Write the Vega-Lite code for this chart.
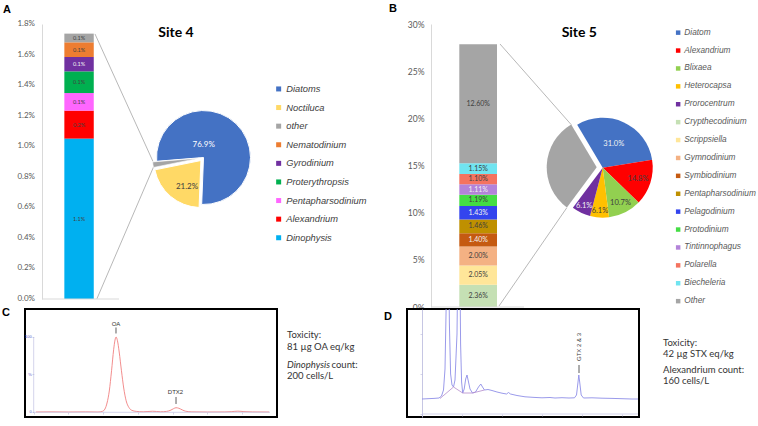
{
  "$schema": "https://vega.github.io/schema/vega-lite/v6.json",
  "background": "#FFFFFF",
  "padding": {"left": 1, "top": 2, "right": 0, "bottom": 0},
  "bounds": "flush",
  "columns": 2,
  "spacing": {"row": 2, "column": 0},
  "resolve": {"scale": {"color": "independent", "theta": "independent", "x": "independent", "y": "independent"}, "legend": {"color": "independent"}},
  "config": {"view": {"stroke": null}, "font": "Lato", "text": {"font": "Lato"}, "axis": {"labelOverlap": false}},
  "datasets": {
    "one": [{}],
    "ticks4": [
      {"v": 0.0, "lab": "0.0%"}, {"v": 0.2, "lab": "0.2%"}, {"v": 0.4, "lab": "0.4%"}, {"v": 0.6, "lab": "0.6%"}, {"v": 0.8, "lab": "0.8%"},
      {"v": 1.0, "lab": "1.0%"}, {"v": 1.2, "lab": "1.2%"}, {"v": 1.4, "lab": "1.4%"}, {"v": 1.6, "lab": "1.6%"}, {"v": 1.8, "lab": "1.8%"}
    ],
    "bar4": [
      {"taxon": "Dinophysis", "v": 1.05, "k": 1, "lab": "1.1%"},
      {"taxon": "Alexandrium", "v": 0.183, "k": 2, "lab": "0.2%"},
      {"taxon": "Pentapharsodinium", "v": 0.115, "k": 3, "lab": "0.1%"},
      {"taxon": "Proterythropsis", "v": 0.142, "k": 4, "lab": "0.1%"},
      {"taxon": "Gyrodinium", "v": 0.094, "k": 5, "lab": "0.1%"},
      {"taxon": "Nematodinium", "v": 0.096, "k": 6, "lab": "0.1%"},
      {"taxon": "other", "v": 0.057, "k": 7, "lab": "0.1%"}
    ],
    "pie4": [
      {"taxon": "Diatoms", "v": 76.9, "k": 1, "lab": "76.9%"},
      {"taxon": "Noctiluca", "v": 21.2, "k": 2, "lab": "21.2%"},
      {"taxon": "other", "v": 1.9, "k": 3, "lab": ""}
    ],
    "bar5": [
      {"taxon": "Crypthecodinium", "v": 2.36, "k": 1, "lab": "2.36%"},
      {"taxon": "Scrippsiella", "v": 2.05, "k": 2, "lab": "2.05%"},
      {"taxon": "Gymnodinium", "v": 2.0, "k": 3, "lab": "2.00%"},
      {"taxon": "Symbiodinium", "v": 1.4, "k": 4, "lab": "1.40%"},
      {"taxon": "Pentapharsodinium", "v": 1.46, "k": 5, "lab": "1.46%"},
      {"taxon": "Pelagodinium", "v": 1.43, "k": 6, "lab": "1.43%"},
      {"taxon": "Protodinium", "v": 1.19, "k": 7, "lab": "1.19%"},
      {"taxon": "Tintinnophagus", "v": 1.11, "k": 8, "lab": "1.11%"},
      {"taxon": "Polarella", "v": 1.1, "k": 9, "lab": "1.10%"},
      {"taxon": "Biecheleria", "v": 1.15, "k": 10, "lab": "1.15%"},
      {"taxon": "Other", "v": 12.6, "k": 11, "lab": "12.60%"}
    ],
    "pie5": [
      {"taxon": "Diatom", "v": 31.0, "k": 1, "lab": "31.0%"},
      {"taxon": "Alexandrium", "v": 14.8, "k": 2, "lab": "14.8%"},
      {"taxon": "Blixaea", "v": 10.7, "k": 3, "lab": "10.7%"},
      {"taxon": "Heterocapsa", "v": 6.1, "k": 4, "lab": "6.1%"},
      {"taxon": "Prorocentrum", "v": 6.1, "k": 5, "lab": "6.1%"},
      {"taxon": "Other", "v": 31.3, "k": 6, "lab": ""}
    ],
    "trc": [
      {"t": 0.13, "v": 0}, {"t": 1, "v": 0.2}, {"t": 2, "v": 0}, {"t": 3, "v": 0.2}, {"t": 3.7, "v": 0},
      {"t": 3.95, "v": 0.8}, {"t": 4.1, "v": 4}, {"t": 4.22, "v": 12}, {"t": 4.35, "v": 28}, {"t": 4.48, "v": 55},
      {"t": 4.6, "v": 83}, {"t": 4.68, "v": 96}, {"t": 4.74, "v": 100}, {"t": 4.82, "v": 95}, {"t": 4.92, "v": 80},
      {"t": 5.05, "v": 55}, {"t": 5.18, "v": 32}, {"t": 5.32, "v": 15}, {"t": 5.48, "v": 6}, {"t": 5.65, "v": 2.2},
      {"t": 5.9, "v": 0.8}, {"t": 6.3, "v": 0.3}, {"t": 6.85, "v": 1.0}, {"t": 7.3, "v": 0.3}, {"t": 7.65, "v": 0.8},
      {"t": 7.9, "v": 2.6}, {"t": 8.05, "v": 4.5}, {"t": 8.19, "v": 5.7}, {"t": 8.35, "v": 5}, {"t": 8.55, "v": 2.8},
      {"t": 8.75, "v": 1}, {"t": 9.1, "v": 0.2}, {"t": 10, "v": 0}, {"t": 11, "v": 0.1}, {"t": 11.4, "v": 0.5},
      {"t": 11.75, "v": 1.1}, {"t": 12.1, "v": 0.5}, {"t": 12.6, "v": 0.1}, {"t": 13.55, "v": 0}
    ],
    "trd": [
      {"t": 0, "v": 15}, {"t": 0.6, "v": 15.3}, {"t": 1.2, "v": 15.6}, {"t": 1.7, "v": 16}, {"t": 1.95, "v": 18},
      {"t": 2.15, "v": 24}, {"t": 2.3, "v": 45}, {"t": 2.42, "v": 110}, {"t": 2.52, "v": 200}, {"t": 2.62, "v": 200},
      {"t": 2.74, "v": 90}, {"t": 2.86, "v": 40}, {"t": 3.0, "v": 29}, {"t": 3.15, "v": 27}, {"t": 3.3, "v": 34},
      {"t": 3.5, "v": 80}, {"t": 3.64, "v": 200}, {"t": 3.74, "v": 200}, {"t": 3.86, "v": 70}, {"t": 3.96, "v": 32},
      {"t": 4.07, "v": 21}, {"t": 4.22, "v": 25}, {"t": 4.37, "v": 35}, {"t": 4.5, "v": 39}, {"t": 4.63, "v": 33},
      {"t": 4.8, "v": 25}, {"t": 5.05, "v": 21}, {"t": 5.35, "v": 22}, {"t": 5.65, "v": 27}, {"t": 5.88, "v": 30},
      {"t": 6.05, "v": 27}, {"t": 6.25, "v": 24}, {"t": 6.6, "v": 24.5}, {"t": 7.0, "v": 23.5}, {"t": 7.5, "v": 22},
      {"t": 8.0, "v": 20.8}, {"t": 8.45, "v": 20}, {"t": 8.65, "v": 21.5}, {"t": 8.85, "v": 20}, {"t": 9.5, "v": 18.5},
      {"t": 10.3, "v": 17.2}, {"t": 11.2, "v": 16.6}, {"t": 12.0, "v": 16.2}, {"t": 12.8, "v": 16.5}, {"t": 13.3, "v": 16},
      {"t": 14.0, "v": 16.3}, {"t": 14.7, "v": 16}, {"t": 15.25, "v": 16.2}, {"t": 15.45, "v": 19}, {"t": 15.58, "v": 30},
      {"t": 15.68, "v": 39}, {"t": 15.78, "v": 31}, {"t": 15.92, "v": 19}, {"t": 16.15, "v": 16}, {"t": 17, "v": 16.2},
      {"t": 18, "v": 15.8}, {"t": 19, "v": 15.6}, {"t": 20, "v": 15.3}, {"t": 21, "v": 15}, {"t": 21.6, "v": 15}
    ],
    "trd2": [
      {"t": 1.8, "v": 15.5}, {"t": 3.15, "v": 27}, {"t": 4.07, "v": 21}, {"t": 5.05, "v": 21}, {"t": 6.25, "v": 24}
    ]
  },
  "concat": [
    {
      "width": 382,
      "height": 275,
      "layer": [
        {
          "data": {"name": "bar4"},
          "transform": [{"stack": "v", "groupby": [], "sort": [{"field": "k", "order": "ascending"}], "as": ["v0", "v1"]}],
          "mark": {"type": "bar"},
          "encoding": {
            "x": {"datum": 1.03, "type": "quantitative", "scale": {"domain": [0, 10], "nice": false, "zero": false}, "axis": null},
            "x2": {"datum": 1.8},
            "y": {"field": "v0", "type": "quantitative", "title": null, "scale": {"domain": [0, 1.8], "nice": false, "zero": false},
              "axis": {"orient": "left", "offset": -17, "values": [0, 0.2, 0.4, 0.6, 0.8, 1.0, 1.2, 1.4, 1.6, 1.8], "labels": false, "domainColor": "#D9D9D9", "ticks": false, "grid": false, "title": null}},
            "y2": {"field": "v1"},
            "color": {"field": "taxon", "type": "nominal",
              "scale": {"domain": ["Diatoms", "Noctiluca", "other", "Nematodinium", "Gyrodinium", "Proterythropsis", "Pentapharsodinium", "Alexandrium", "Dinophysis"],
                        "range": ["#4472C4", "#FFD966", "#A5A5A5", "#ED7D31", "#7030A0", "#00B050", "#FF66FF", "#FF0000", "#00B0F0"]},
              "legend": {"orient": "none", "legendX": 249, "legendY": 60.3, "title": null, "labelFontStyle": "italic", "labelFont": "Liberation Sans", "labelFontSize": 9.3, "labelColor": "#404040", "labelLimit": 300, "symbolType": "square", "symbolSize": 25, "symbolStrokeWidth": 0, "rowPadding": 8.6, "labelOffset": 3, "padding": 0}}
          }
        },
        {
          "data": {"name": "ticks4"},
          "mark": {"type": "text", "fontSize": 8, "color": "#595959", "align": "right", "baseline": "middle"},
          "encoding": {
            "x": {"datum": 0.262, "type": "quantitative", "axis": null},
            "y": {"field": "v", "type": "quantitative"},
            "text": {"field": "lab", "type": "nominal"}
          }
        },
        {
          "data": {"name": "bar4"},
          "mark": {"type": "text", "fontSize": 5.5, "align": "center", "baseline": "middle"},
          "encoding": {
            "x": {"datum": 1.415, "type": "quantitative", "axis": null},
            "y": {"field": "v", "type": "quantitative", "stack": "zero", "bandPosition": 0.5},
            "order": {"field": "k", "type": "quantitative"},
            "detail": {"field": "taxon", "type": "nominal"},
            "text": {"field": "lab", "type": "nominal"},
            "fill": {"condition": {"test": "datum.taxon === 'Gyrodinium'", "value": "#F2F2F2"}, "value": "#404040"}
          }
        },
        {
          "data": {"name": "one"},
          "mark": {"type": "rule", "color": "#D9D9D9", "strokeWidth": 1},
          "encoding": {
            "x": {"datum": 0.445, "type": "quantitative", "axis": null},
            "x2": {"datum": 2.461},
            "y": {"datum": 0, "type": "quantitative"}
          }
        },
        {
          "data": {"name": "one"},
          "mark": {"type": "rule", "color": "#A6A6A6", "strokeWidth": 0.8},
          "encoding": {
            "x": {"datum": 1.832, "type": "quantitative", "axis": null},
            "x2": {"datum": 3.351},
            "y": {"datum": 1.735, "type": "quantitative"},
            "y2": {"datum": 0.9}
          }
        },
        {
          "data": {"name": "one"},
          "mark": {"type": "rule", "color": "#A6A6A6", "strokeWidth": 0.8},
          "encoding": {
            "x": {"datum": 1.885, "type": "quantitative", "axis": null},
            "x2": {"datum": 3.364},
            "y": {"datum": 0.003, "type": "quantitative"},
            "y2": {"datum": 0.864}
          }
        },
        {
          "data": {"name": "pie4"},
          "mark": {"type": "arc", "outerRadius": 47, "stroke": "#FFFFFF", "strokeWidth": 1},
          "encoding": {
            "x": {"datum": 4.673, "type": "quantitative", "axis": null},
            "y": {"datum": 0.926, "type": "quantitative"},
            "theta": {"field": "v", "type": "quantitative", "stack": true, "scale": {"range": [4.632, 10.915]}},
            "order": {"field": "k", "type": "quantitative"},
            "color": {"field": "taxon", "type": "nominal", "legend": null},
            "opacity": {"condition": {"test": "datum.taxon !== 'Diatoms'", "value": 0}, "value": 1}
          }
        },
        {
          "data": {"name": "pie4"},
          "mark": {"type": "arc", "outerRadius": 47, "stroke": "#FFFFFF", "strokeWidth": 1, "xOffset": -2.6, "yOffset": 3},
          "encoding": {
            "x": {"datum": 4.673, "type": "quantitative", "axis": null},
            "y": {"datum": 0.926, "type": "quantitative"},
            "theta": {"field": "v", "type": "quantitative", "stack": true, "scale": {"range": [4.632, 10.915]}},
            "order": {"field": "k", "type": "quantitative"},
            "color": {"field": "taxon", "type": "nominal", "legend": null},
            "opacity": {"condition": {"test": "datum.taxon !== 'Noctiluca'", "value": 0}, "value": 1}
          }
        },
        {
          "data": {"name": "pie4"},
          "mark": {"type": "arc", "outerRadius": 47, "stroke": "#FFFFFF", "strokeWidth": 0.6, "xOffset": -4, "yOffset": 0.6},
          "encoding": {
            "x": {"datum": 4.673, "type": "quantitative", "axis": null},
            "y": {"datum": 0.926, "type": "quantitative"},
            "theta": {"field": "v", "type": "quantitative", "stack": true, "scale": {"range": [4.632, 10.915]}},
            "order": {"field": "k", "type": "quantitative"},
            "color": {"field": "taxon", "type": "nominal", "legend": null},
            "opacity": {"condition": {"test": "datum.taxon !== 'other'", "value": 0}, "value": 1}
          }
        },
        {
          "data": {"name": "pie4"},
          "transform": [{"filter": "datum.taxon === 'Diatoms'"}],
          "mark": {"type": "text", "fontSize": 8, "color": "#FFFFFF", "align": "center", "baseline": "middle"},
          "encoding": {
            "x": {"datum": 4.678, "type": "quantitative", "axis": null},
            "y": {"datum": 1.008, "type": "quantitative"},
            "text": {"field": "lab", "type": "nominal"}
          }
        },
        {
          "data": {"name": "pie4"},
          "transform": [{"filter": "datum.taxon === 'Noctiluca'"}],
          "mark": {"type": "text", "fontSize": 8, "color": "#404040", "align": "center", "baseline": "middle"},
          "encoding": {
            "x": {"datum": 4.241, "type": "quantitative", "axis": null},
            "y": {"datum": 0.735, "type": "quantitative"},
            "text": {"field": "lab", "type": "nominal"}
          }
        },
        {
          "data": {"name": "one"},
          "mark": {"type": "text", "fontSize": 14, "fontWeight": "bold", "color": "#000000", "align": "center", "baseline": "middle"},
          "encoding": {
            "x": {"datum": 3.953, "type": "quantitative", "axis": null},
            "y": {"datum": 1.741, "type": "quantitative"},
            "text": {"value": "Site 4"}
          }
        },
        {
          "data": {"name": "one"},
          "mark": {"type": "text", "fontSize": 11, "fontWeight": "bold", "font": "Liberation Sans", "color": "#000000", "align": "left", "baseline": "top"},
          "encoding": {
            "x": {"datum": -0.576, "type": "quantitative", "axis": null},
            "y": {"datum": 1.931, "type": "quantitative"},
            "text": {"value": "A"}
          }
        }
      ]
    },
    {
      "width": 352,
      "height": 283,
      "layer": [
        {
          "data": {"name": "bar5"},
          "transform": [{"stack": "v", "groupby": [], "sort": [{"field": "k", "order": "ascending"}], "as": ["v0", "v1"]}],
          "mark": {"type": "bar"},
          "encoding": {
            "x": {"datum": 1.486, "type": "quantitative", "scale": {"domain": [0, 10], "nice": false, "zero": false}, "axis": null},
            "x2": {"datum": 2.557},
            "y": {"field": "v0", "type": "quantitative", "title": null, "scale": {"domain": [0, 30], "nice": false, "zero": false},
              "axis": {"orient": "left", "offset": -24, "values": [0, 5, 10, 15, 20, 25, 30], "labelExpr": "datum.value + '%'", "labelOverlap": false, "domainColor": "#D9D9D9", "ticks": false, "grid": false, "labelFontSize": 8.5, "labelColor": "#595959", "labelFont": "Lato", "labelPadding": 7, "title": null}},
            "y2": {"field": "v1"},
            "color": {"field": "taxon", "type": "nominal",
              "scale": {"domain": ["Diatom", "Alexandrium", "Blixaea", "Heterocapsa", "Prorocentrum", "Crypthecodinium", "Scrippsiella", "Gymnodinium", "Symbiodinium", "Pentapharsodinium", "Pelagodinium", "Protodinium", "Tintinnophagus", "Polarella", "Biecheleria", "Other"],
                        "range": ["#4472C4", "#FF0000", "#92D050", "#FFC000", "#7030A0", "#C5E0B4", "#FFE699", "#F4B183", "#C55A11", "#BF9000", "#3344EE", "#44DD44", "#B383D9", "#F4735F", "#70E4F0", "#A5A5A5"]},
              "legend": {"orient": "none", "legendX": 267, "legendY": 4.5, "title": null, "labelFontStyle": "italic", "labelFont": "Liberation Sans", "labelFontSize": 8.3, "labelColor": "#595959", "labelLimit": 300, "symbolType": "square", "symbolSize": 20, "symbolStrokeWidth": 0, "rowPadding": 8.9, "labelOffset": 2, "padding": 0}}
          }
        },
        {
          "data": {"name": "bar5"},
          "mark": {"type": "text", "fontSize": 7, "align": "center", "baseline": "middle"},
          "encoding": {
            "x": {"datum": 2.021, "type": "quantitative", "axis": null},
            "y": {"field": "v", "type": "quantitative", "stack": "zero", "bandPosition": 0.5},
            "order": {"field": "k", "type": "quantitative"},
            "detail": {"field": "taxon", "type": "nominal"},
            "text": {"field": "lab", "type": "nominal"},
            "fill": {"condition": {"test": "datum.taxon === 'Pelagodinium' || datum.taxon === 'Symbiodinium' || datum.taxon === 'Tintinnophagus'", "value": "#F2F2F2"}, "value": "#404040"}
          }
        },
        {
          "data": {"name": "one"},
          "mark": {"type": "rule", "color": "#D9D9D9", "strokeWidth": 1},
          "encoding": {
            "x": {"datum": 0.682, "type": "quantitative", "axis": null},
            "x2": {"datum": 3.324},
            "y": {"datum": 0, "type": "quantitative"}
          }
        },
        {
          "data": {"name": "one"},
          "mark": {"type": "rule", "color": "#A6A6A6", "strokeWidth": 0.8},
          "encoding": {
            "x": {"datum": 2.642, "type": "quantitative", "axis": null},
            "x2": {"datum": 4.665},
            "y": {"datum": 27.88, "type": "quantitative"},
            "y2": {"datum": 19.33}
          }
        },
        {
          "data": {"name": "one"},
          "mark": {"type": "rule", "color": "#A6A6A6", "strokeWidth": 0.8},
          "encoding": {
            "x": {"datum": 2.614, "type": "quantitative", "axis": null},
            "x2": {"datum": 4.54},
            "y": {"datum": 0.106, "type": "quantitative"},
            "y2": {"datum": 10.52}
          }
        },
        {
          "data": {"name": "pie5"},
          "mark": {"type": "arc", "outerRadius": 50},
          "encoding": {
            "x": {"datum": 5.56, "type": "quantitative", "axis": null},
            "y": {"datum": 14.77, "type": "quantitative"},
            "theta": {"field": "v", "type": "quantitative", "stack": true, "scale": {"range": [-0.5358, 5.7474]}},
            "order": {"field": "k", "type": "quantitative"},
            "color": {"field": "taxon", "type": "nominal", "legend": null},
            "opacity": {"condition": {"test": "datum.taxon === 'Other'", "value": 0}, "value": 1}
          }
        },
        {
          "data": {"name": "pie5"},
          "mark": {"type": "arc", "outerRadius": 50, "xOffset": -6, "yOffset": -0.3},
          "encoding": {
            "x": {"datum": 5.56, "type": "quantitative", "axis": null},
            "y": {"datum": 14.77, "type": "quantitative"},
            "theta": {"field": "v", "type": "quantitative", "stack": true, "scale": {"range": [-0.5358, 5.7474]}},
            "order": {"field": "k", "type": "quantitative"},
            "color": {"field": "taxon", "type": "nominal", "legend": null},
            "opacity": {"condition": {"test": "datum.taxon !== 'Other'", "value": 0}, "value": 1}
          }
        },
        {
          "data": {"name": "pie5"},
          "mark": {"type": "text", "fontSize": 7.5, "align": "center", "baseline": "middle"},
          "encoding": {
            "x": {"datum": 5.56, "type": "quantitative", "axis": null},
            "y": {"datum": 14.77, "type": "quantitative"},
            "theta": {"field": "v", "type": "quantitative", "stack": true, "scale": {"range": [-0.5358, 5.7474]}},
            "radius": {"field": "v", "type": "quantitative", "scale": {"type": "linear", "zero": false, "domain": [6, 31], "range": [43, 26]}},
            "order": {"field": "k", "type": "quantitative"},
            "detail": {"field": "taxon", "type": "nominal"},
            "text": {"field": "lab", "type": "nominal"},
            "fill": {"condition": {"test": "datum.taxon === 'Diatom' || datum.taxon === 'Prorocentrum'", "value": "#F2F2F2"}, "value": "#404040"}
          }
        },
        {
          "data": {"name": "one"},
          "mark": {"type": "text", "fontSize": 14, "fontWeight": "bold", "color": "#000000", "align": "center", "baseline": "middle"},
          "encoding": {
            "x": {"datum": 4.895, "type": "quantitative", "axis": null},
            "y": {"datum": 29.05, "type": "quantitative"},
            "text": {"value": "Site 5"}
          }
        },
        {
          "data": {"name": "one"},
          "mark": {"type": "text", "fontSize": 11, "fontWeight": "bold", "font": "Liberation Sans", "color": "#000000", "align": "left", "baseline": "top"},
          "encoding": {
            "x": {"datum": -0.511, "type": "quantitative", "axis": null},
            "y": {"datum": 32.23, "type": "quantitative"},
            "text": {"value": "B"}
          }
        }
      ]
    },
    {
      "width": 252,
      "height": 108,
      "view": {"stroke": "#000000", "strokeWidth": 2, "fill": "#FFFFFF"},
      "layer": [
        {
          "data": {"name": "trc"},
          "mark": {"type": "line", "color": "#F08080", "strokeWidth": 0.9, "interpolate": "monotone"},
          "encoding": {
            "x": {"field": "t", "type": "quantitative", "title": null, "scale": {"domain": [-0.5, 14], "nice": false, "zero": false},
              "axis": {"orient": "bottom", "offset": -5, "domain": false, "values": [0, 0.5, 1, 1.5, 2, 2.5, 3, 3.5, 4, 4.5, 5, 5.5, 6, 6.5, 7, 7.5, 8, 8.5, 9, 9.5, 10, 10.5, 11, 11.5, 12, 12.5, 13, 13.5], "tickSize": 2, "tickColor": "#B8B8DC", "tickWidth": 0.6, "labels": false, "grid": false, "title": null}},
            "y": {"field": "v", "type": "quantitative", "title": null, "scale": {"domain": [-6.667, 137.333], "nice": false, "zero": false},
              "axis": {"orient": "left", "offset": -8.7, "domain": false, "values": [0, 50, 100], "tickSize": 1.5, "tickColor": "#B8B8DC", "labelFontSize": 4, "labelColor": "#5A5AC8", "labelPadding": 1, "labelFont": "Liberation Sans", "labelExpr": "datum.value == 50 ? '%' : datum.label", "labelOverlap": false, "grid": false, "title": null}}
          }
        },
        {
          "data": {"name": "one"},
          "mark": {"type": "rule", "color": "#C8C8E6", "strokeWidth": 0.8},
          "encoding": {
            "x": {"datum": 0, "type": "quantitative"},
            "y": {"datum": 0, "type": "quantitative"},
            "y2": {"datum": 100}
          }
        },
        {
          "data": {"name": "one"},
          "mark": {"type": "rule", "color": "#C8C8E6", "strokeWidth": 0.8},
          "encoding": {
            "x": {"datum": 0, "type": "quantitative"},
            "x2": {"datum": 13.6},
            "y": {"datum": -0.4, "type": "quantitative"}
          }
        },
        {
          "data": {"name": "one"},
          "mark": {"type": "text", "fontSize": 6, "font": "Liberation Sans", "color": "#333333", "align": "center", "baseline": "middle"},
          "encoding": {
            "x": {"datum": 4.736, "type": "quantitative"},
            "y": {"datum": 117.3, "type": "quantitative"},
            "text": {"value": "OA"}
          }
        },
        {
          "data": {"name": "one"},
          "mark": {"type": "rule", "color": "#333333", "strokeWidth": 0.8},
          "encoding": {
            "x": {"datum": 4.736, "type": "quantitative"},
            "y": {"datum": 112.7, "type": "quantitative"},
            "y2": {"datum": 104.7}
          }
        },
        {
          "data": {"name": "one"},
          "mark": {"type": "text", "fontSize": 6, "font": "Liberation Sans", "color": "#333333", "align": "center", "baseline": "middle"},
          "encoding": {
            "x": {"datum": 8.16, "type": "quantitative"},
            "y": {"datum": 26.7, "type": "quantitative"},
            "text": {"value": "DTX2"}
          }
        },
        {
          "data": {"name": "one"},
          "mark": {"type": "rule", "color": "#333333", "strokeWidth": 0.8},
          "encoding": {
            "x": {"datum": 8.19, "type": "quantitative"},
            "y": {"datum": 20, "type": "quantitative"},
            "y2": {"datum": 10.7}
          }
        },
        {
          "data": {"name": "one"},
          "mark": {"type": "text", "fontSize": 9.5, "color": "#333333", "align": "left", "baseline": "middle"},
          "encoding": {
            "x": {"datum": 14.576, "type": "quantitative"},
            "y": {"datum": 102.7, "type": "quantitative"},
            "text": {"value": "Toxicity:"}
          }
        },
        {
          "data": {"name": "one"},
          "mark": {"type": "text", "fontSize": 9.5, "color": "#333333", "align": "left", "baseline": "middle"},
          "encoding": {
            "x": {"datum": 14.576, "type": "quantitative"},
            "y": {"datum": 87.3, "type": "quantitative"},
            "text": {"value": "81 µg OA eq/kg"}
          }
        },
        {
          "data": {"name": "one"},
          "mark": {"type": "text", "fontSize": 9.5, "fontStyle": "italic", "color": "#333333", "align": "left", "baseline": "middle"},
          "encoding": {
            "x": {"datum": 14.576, "type": "quantitative"},
            "y": {"datum": 63.3, "type": "quantitative"},
            "text": {"value": "Dinophysis"}
          }
        },
        {
          "data": {"name": "one"},
          "mark": {"type": "text", "fontSize": 9.5, "color": "#333333", "align": "left", "baseline": "middle"},
          "encoding": {
            "x": {"datum": 17.136, "type": "quantitative"},
            "y": {"datum": 63.3, "type": "quantitative"},
            "text": {"value": "count:"}
          }
        },
        {
          "data": {"name": "one"},
          "mark": {"type": "text", "fontSize": 9.5, "color": "#333333", "align": "left", "baseline": "middle"},
          "encoding": {
            "x": {"datum": 14.576, "type": "quantitative"},
            "y": {"datum": 48, "type": "quantitative"},
            "text": {"value": "200 cells/L"}
          }
        },
        {
          "data": {"name": "one"},
          "mark": {"type": "text", "fontSize": 11, "fontWeight": "bold", "font": "Liberation Sans", "color": "#000000", "align": "left", "baseline": "top"},
          "encoding": {
            "x": {"datum": -1.823, "type": "quantitative"},
            "y": {"datum": 140, "type": "quantitative"},
            "text": {"value": "C"}
          }
        }
      ]
    },
    {
      "width": 232,
      "height": 108,
      "view": {"stroke": "#000000", "strokeWidth": 2, "fill": "#FFFFFF"},
      "layer": [
        {
          "data": {"name": "trd"},
          "mark": {"type": "line", "color": "#8E8EE8", "strokeWidth": 0.9, "clip": true},
          "encoding": {
            "x": {"field": "t", "type": "quantitative", "title": null, "scale": {"domain": [-1.5, 21.7], "nice": false, "zero": false},
              "axis": {"orient": "bottom", "offset": -3, "domain": false, "values": [0, 1, 2, 3, 4, 5, 6, 7, 8, 9, 10, 11, 12, 13, 14, 15, 16, 17, 18, 19, 20, 21], "tickSize": 2, "tickColor": "#B8B8DC", "tickWidth": 0.6, "labels": false, "grid": false, "title": null}},
            "y": {"field": "v", "type": "quantitative", "title": null, "scale": {"domain": [-3, 105], "nice": false, "zero": false},
              "axis": {"orient": "left", "offset": -15, "domain": true, "domainColor": "#B8B8DC", "domainWidth": 0.8, "values": [0, 10, 20, 30, 40, 50, 60, 70, 80, 90, 100], "tickSize": 2, "tickColor": "#B8B8DC", "tickWidth": 0.6, "labels": false, "grid": false, "title": null}}
          }
        },
        {
          "data": {"name": "trd2"},
          "mark": {"type": "line", "color": "#B48CCC", "strokeWidth": 0.8, "clip": true},
          "encoding": {
            "x": {"field": "t", "type": "quantitative"},
            "y": {"field": "v", "type": "quantitative"}
          }
        },
        {
          "data": {"name": "one"},
          "mark": {"type": "rule", "color": "#C8C8E6", "strokeWidth": 0.8},
          "encoding": {
            "x": {"datum": 0, "type": "quantitative"},
            "x2": {"datum": 21.6},
            "y": {"datum": 0, "type": "quantitative"}
          }
        },
        {
          "data": {"name": "one"},
          "mark": {"type": "text", "fontSize": 6, "font": "Liberation Sans", "color": "#333333", "align": "center", "baseline": "middle", "angle": 270},
          "encoding": {
            "x": {"datum": 15.7, "type": "quantitative"},
            "y": {"datum": 67, "type": "quantitative"},
            "text": {"value": "GTX 2 & 3"}
          }
        },
        {
          "data": {"name": "one"},
          "mark": {"type": "rule", "color": "#333333", "strokeWidth": 0.8},
          "encoding": {
            "x": {"datum": 15.7, "type": "quantitative"},
            "y": {"datum": 49, "type": "quantitative"},
            "y2": {"datum": 41}
          }
        },
        {
          "data": {"name": "one"},
          "mark": {"type": "text", "fontSize": 9.5, "color": "#333333", "align": "left", "baseline": "middle"},
          "encoding": {
            "x": {"datum": 24.1, "type": "quantitative"},
            "y": {"datum": 71, "type": "quantitative"},
            "text": {"value": "Toxicity:"}
          }
        },
        {
          "data": {"name": "one"},
          "mark": {"type": "text", "fontSize": 9.5, "color": "#333333", "align": "left", "baseline": "middle"},
          "encoding": {
            "x": {"datum": 24.1, "type": "quantitative"},
            "y": {"datum": 60, "type": "quantitative"},
            "text": {"value": "42 µg STX eq/kg"}
          }
        },
        {
          "data": {"name": "one"},
          "mark": {"type": "text", "fontSize": 9.5, "color": "#333333", "align": "left", "baseline": "middle"},
          "encoding": {
            "x": {"datum": 24.1, "type": "quantitative"},
            "y": {"datum": 44, "type": "quantitative"},
            "text": {"value": "Alexandrium count:"}
          }
        },
        {
          "data": {"name": "one"},
          "mark": {"type": "text", "fontSize": 9.5, "color": "#333333", "align": "left", "baseline": "middle"},
          "encoding": {
            "x": {"datum": 24.1, "type": "quantitative"},
            "y": {"datum": 33, "type": "quantitative"},
            "text": {"value": "160 cells/L"}
          }
        },
        {
          "data": {"name": "one"},
          "mark": {"type": "text", "fontSize": 11, "fontWeight": "bold", "font": "Liberation Sans", "color": "#000000", "align": "left", "baseline": "top"},
          "encoding": {
            "x": {"datum": -3.8, "type": "quantitative"},
            "y": {"datum": 103, "type": "quantitative"},
            "text": {"value": "D"}
          }
        }
      ]
    }
  ]
}
